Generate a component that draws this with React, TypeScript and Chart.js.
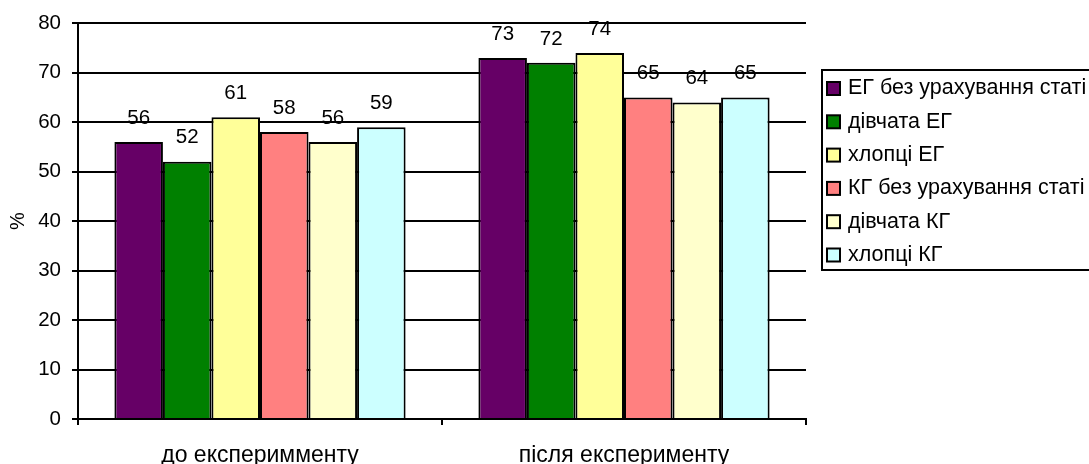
import React, { useEffect, useRef } from "react";
import { Chart, registerables } from "chart.js";

Chart.register(...registerables);

const categories = ["до експеримменту", "після експерименту"];
const seriesLabels = [
  "ЕГ без урахування статі",
  "дівчата ЕГ",
  "хлопці ЕГ",
  "КГ без урахування статі",
  "дівчата КГ",
  "хлопці КГ",
];
const egAll = [56, 73];
const egGirls = [52, 72];
const egBoys = [61, 74];
const kgAll = [58, 65];
const kgGirls = [56, 64];
const kgBoys = [59, 65];
const seriesValues = [egAll, egGirls, egBoys, kgAll, kgGirls, kgBoys];
const seriesColors = ["#660066", "#008000", "#FFFF99", "#FF8080", "#FFFFCC", "#CCFFFF"];

const FONT = "'Liberation Sans', Arial, sans-serif";

const valueLabels = {
  id: "valueLabels",
  afterDatasetsDraw(chart: any) {
    const ctx = chart.ctx;
    ctx.save();
    ctx.font = `20.5px ${FONT}`;
    ctx.fillStyle = "#000";
    ctx.textAlign = "center";
    ctx.textBaseline = "middle";
    chart.data.datasets.forEach((ds: any, i: number) => {
      const meta = chart.getDatasetMeta(i);
      meta.data.forEach((bar: any, j: number) => {
        ctx.fillText(String(ds.data[j]), bar.x, bar.y - 24);
      });
    });
    ctx.restore();
  },
};

const boxLegend = {
  id: "boxLegend",
  afterDraw(chart: any) {
    const ctx = chart.ctx;
    const left = 822;
    const top = 70;
    const bottom = 270;
    ctx.save();
    ctx.lineWidth = 2;
    ctx.strokeStyle = "#000";
    ctx.strokeRect(left, top, 300, bottom - top);
    ctx.font = `21.5px ${FONT}`;
    ctx.textBaseline = "middle";
    ctx.textAlign = "left";
    chart.data.datasets.forEach((ds: any, i: number) => {
      const cy = 88.5 + i * 33.3;
      ctx.fillStyle = ds.backgroundColor;
      ctx.fillRect(827, cy - 6.5, 13, 13);
      ctx.lineWidth = 2;
      ctx.strokeRect(827, cy - 6.5, 13, 13);
      ctx.fillStyle = "#000";
      ctx.fillText(ds.label, 848, cy);
    });
    ctx.restore();
  },
};

export default function App() {
  const ref = useRef<HTMLCanvasElement>(null);
  useEffect(() => {
    if (!ref.current) return;
    const chart = new Chart(ref.current, {
      type: "bar",
      data: {
        labels: categories,
        datasets: seriesLabels.map((label, i) => ({
          label,
          data: seriesValues[i],
          backgroundColor: seriesColors[i],
          borderColor: "#000",
          borderWidth: 2,
          barPercentage: 1,
          categoryPercentage: 0.8,
        })),
      },
      options: {
        animation: false,
        responsive: false,
        devicePixelRatio: 1,
        layout: { padding: { top: 23, right: 283, left: 0, bottom: 0 } },
        plugins: {
          legend: { display: false },
          tooltip: { enabled: false },
        },
        scales: {
          x: {
            afterFit: (s: any) => {
              s.height = 45;
            },
            grid: {
              drawOnChartArea: false,
              drawTicks: true,
              tickLength: 6,
              color: "#000",
              lineWidth: 2,
              offset: true,
            },
            border: { color: "#000", width: 2 },
            ticks: { color: "#000", font: { family: FONT, size: 23 }, padding: 17 },
          },
          y: {
            min: 0,
            max: 80,
            afterFit: (s: any) => {
              s.width = 78;
            },
            ticks: { stepSize: 10, color: "#000", font: { family: FONT, size: 20.5 }, padding: 11 },
            grid: { color: "#000", lineWidth: 2, tickLength: 6 },
            border: { color: "#000", width: 2 },
            title: {
              display: true,
              text: "%",
              color: "#000",
              font: { family: FONT, size: 20 },
              padding: { top: 6, bottom: 0 },
            },
          },
        },
      },
      plugins: [valueLabels, boxLegend],
    });
    return () => chart.destroy();
  }, []);
  return (
    <div style={{ position: "fixed", left: 0, top: 0, width: 1089, height: 464, background: "#fff" }}>
      <canvas ref={ref} width={1089} height={464} style={{ width: 1089, height: 464 }} />
    </div>
  );
}
